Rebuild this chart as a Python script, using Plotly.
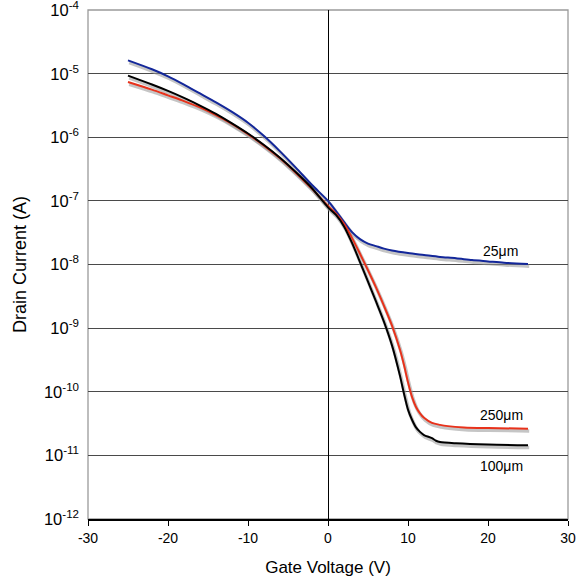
import plotly.graph_objects as go

# Gate voltage (V) sample points and log10 of drain current (A)
vg_neg = [-25, -22, -20, -18, -16, -14, -12, -10, -8, -6, -4, -2]
blue_neg = [-4.79, -4.93, -5.04, -5.17, -5.31, -5.45, -5.60, -5.77, -5.98, -6.22, -6.48, -6.75]
red_neg = [-5.13, -5.25, -5.34, -5.43, -5.53, -5.65, -5.79, -5.95, -6.13, -6.33, -6.56, -6.81]
black_neg = [-5.03, -5.17, -5.27, -5.38, -5.50, -5.63, -5.78, -5.94, -6.12, -6.32, -6.55, -6.80]

vg_blue_pos = [0, 1, 2, 3, 4, 5, 6, 7, 8, 10, 12, 14, 16, 18, 20, 22, 25]
blue_pos = [-7.00, -7.16, -7.33, -7.49, -7.60, -7.67, -7.71, -7.75, -7.78, -7.82, -7.85, -7.88,
            -7.90, -7.93, -7.95, -7.97, -7.99]

vg_red_pos = [0, 1, 2, 3, 4, 5, 6, 7, 8, 9, 9.5, 10, 10.5, 11, 11.5, 12, 13, 14, 15, 17, 20, 25]
red_pos = [-7.08, -7.20, -7.36, -7.58, -7.83, -8.09, -8.36, -8.65, -8.96, -9.34, -9.58, -9.85,
           -10.08, -10.24, -10.34, -10.41, -10.49, -10.52, -10.54, -10.56, -10.57, -10.58]

vg_black_pos = [0, 1, 2, 3, 4, 5, 6, 7, 8, 9, 9.5, 10, 10.5, 11, 11.5, 12, 13, 13.5, 14, 16, 20, 25]
black_pos = [-7.10, -7.22, -7.40, -7.66, -7.96, -8.27, -8.58, -8.90, -9.27, -9.75, -10.03, -10.28,
             -10.44, -10.56, -10.63, -10.68, -10.73, -10.77, -10.79, -10.81, -10.83, -10.84]

series = [
    ("25\u03bcm", vg_neg + vg_blue_pos, blue_neg + blue_pos, "#13279a"),
    ("250\u03bcm", vg_neg + vg_red_pos, red_neg + red_pos, "#e8321b"),
    ("100\u03bcm", vg_neg + vg_black_pos, black_neg + black_pos, "#000000"),
]

ytick_exps = [-12, -11, -10, -9, -8, -7, -6, -5, -4]
xtick_vals = [-30, -20, -10, 0, 10, 20, 30]

FONT = "Liberation Sans, Arial, sans-serif"

fig = go.Figure()

# soft grey shadows under each curve
for name, xs, ls, color in series:
    fig.add_trace(go.Scatter(
        x=[v + 0.15 for v in xs], y=[10 ** (l - 0.035) for l in ls],
        mode="lines", line=dict(color="rgba(150,150,150,0.55)", width=3.5, shape="spline", smoothing=0.8),
        hoverinfo="skip", showlegend=False))

for name, xs, ls, color in series:
    fig.add_trace(go.Scatter(
        x=xs, y=[10 ** l for l in ls], mode="lines", name=name,
        line=dict(color=color, width=2, shape="spline", smoothing=0.8), showlegend=False))

# curve labels
labels = [("25\u03bcm", 21.5, -7.78), ("250\u03bcm", 21.7, -10.36), ("100\u03bcm", 21.7, -11.17)]
for txt, lx, ly in labels:
    fig.add_annotation(x=lx, y=ly, text=txt, showarrow=False,
                       font=dict(family=FONT, size=14, color="#000"))

# frame (top / right / left in grey)
fig.add_shape(type="rect", xref="paper", yref="paper", x0=0, y0=0, x1=1, y1=1,
              line=dict(color="#9a9a9a", width=1.3), layer="below")

fig.update_layout(
    width=580, height=578,
    margin=dict(l=88, r=12, t=10, b=59, autoexpand=False),
    plot_bgcolor="white", paper_bgcolor="white",
    font=dict(family=FONT, color="#000"),
    xaxis=dict(
        range=[-30, 30], tickvals=xtick_vals, ticktext=[str(v) for v in xtick_vals],
        automargin=False,
        showgrid=False, zeroline=True, zerolinecolor="#000", zerolinewidth=1.2,
        showline=True, linecolor="#000", linewidth=1.5,
        ticks="outside", ticklen=5, tickcolor="#000",
        tickfont=dict(size=14, family=FONT),
        title=dict(text="Gate Voltage (V)", font=dict(size=17, family=FONT), standoff=17),
    ),
    yaxis=dict(
        type="log", range=[-12, -3.998],
        tickvals=[10 ** e for e in ytick_exps],
        ticktext=["10<sup>%d</sup>" % e for e in ytick_exps],
        automargin=False,
        showgrid=True, gridcolor="#4a4a4a", gridwidth=1,
        showline=False, ticks="", ticklabelstandoff=8, ticklabeloverflow="allow",
        tickfont=dict(size=16.5, family=FONT),
        title=dict(text="Drain Current (A)", font=dict(size=18, family=FONT), standoff=12),
    ),
)

fig.write_html("out.html")
